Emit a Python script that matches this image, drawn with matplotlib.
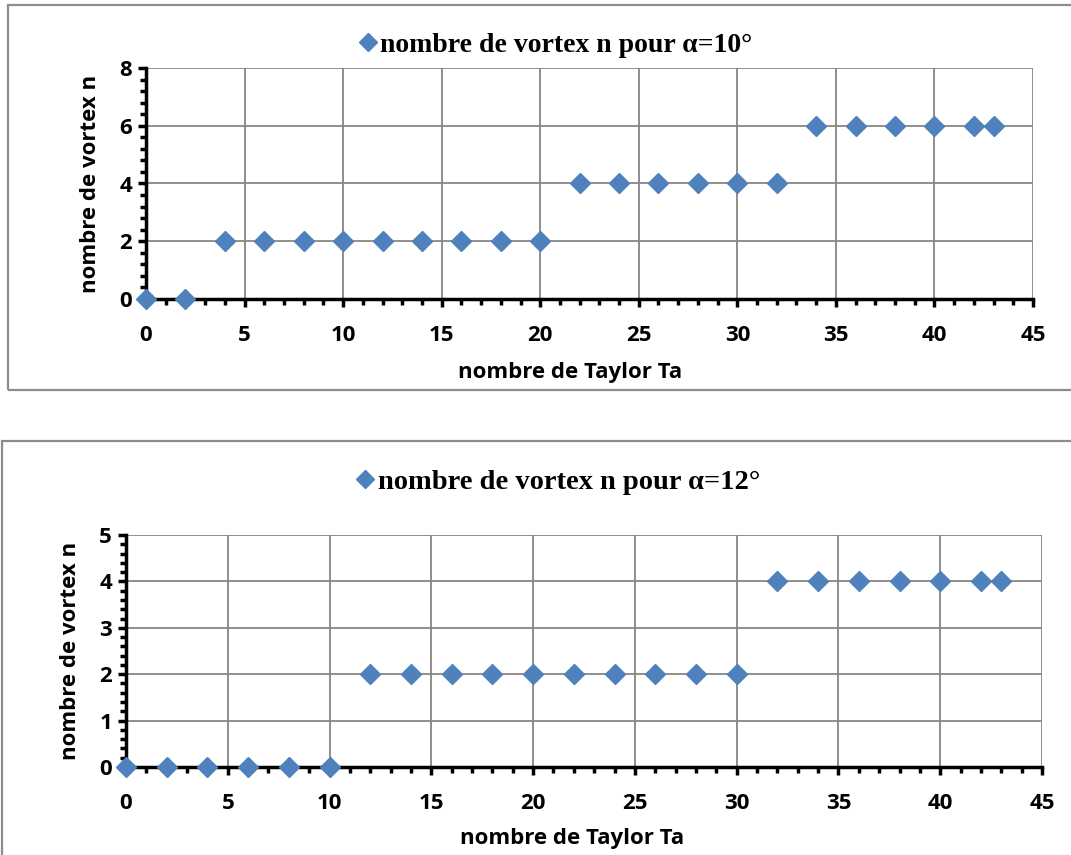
import matplotlib
matplotlib.use('Agg')
import matplotlib.pyplot as plt
from matplotlib.patches import Rectangle
from matplotlib.ticker import MultipleLocator

# nombre de Taylor (commun aux deux séries)
ta = [0, 2, 4, 6, 8, 10, 12, 14, 16, 18, 20, 22, 24, 26, 28, 30, 32, 34, 36, 38, 40, 42, 43]
# nombre de vortex pour alpha = 10° et alpha = 12°
n_10 = [0, 0, 2, 2, 2, 2, 2, 2, 2, 2, 2, 4, 4, 4, 4, 4, 4, 6, 6, 6, 6, 6, 6]
n_12 = [0, 0, 0, 0, 0, 0, 2, 2, 2, 2, 2, 2, 2, 2, 2, 2, 4, 4, 4, 4, 4, 4, 4]

labels = ['nombre de vortex n pour \u03b1=10\u00b0', 'nombre de vortex n pour \u03b1=12\u00b0']

bleu = '#4F81BD'
gris = '#868686'
police = 'Open Sans'

fig = plt.figure(figsize=(10.71, 8.55), dpi=100)

# cadres des deux graphiques
fig.patches.append(Rectangle((8 / 1071, 1 - 390 / 855), 1.1, 385 / 855, transform=fig.transFigure,
                             fill=False, edgecolor='#8c8c8c', lw=1.6))
fig.patches.append(Rectangle((2 / 1071, -0.05), 1.1, 1 - 441 / 855 + 0.05, transform=fig.transFigure,
                             fill=False, edgecolor='#8c8c8c', lw=1.6))


def tracer(pos, y, ymax, ymin_step, label, leg_pos, leg_size, xlab_xy):
    ax = fig.add_axes(pos)
    ax.plot(ta, y, linestyle='none', marker='D', markersize=10, color=bleu, clip_on=False, zorder=5)
    ax.set_xlim(0, 45)
    ax.set_ylim(0, ymax)
    ax.xaxis.set_major_locator(MultipleLocator(5))
    ax.xaxis.set_minor_locator(MultipleLocator(1))
    ax.yaxis.set_major_locator(MultipleLocator(2 if ymax == 8 else 1))
    ax.yaxis.set_minor_locator(MultipleLocator(ymin_step))
    ax.grid(True, which='major', color=gris, lw=1.3)
    ax.set_axisbelow(True)
    for s in ['top', 'right']:
        ax.spines[s].set_visible(False)
    for s in ['left', 'bottom']:
        ax.spines[s].set_linewidth(2.5)
        ax.spines[s].set_zorder(3)
    ax.tick_params(which='major', direction='out', length=6, width=2.5, labelsize=16)
    ax.tick_params(which='minor', direction='out', length=4, width=2.5)
    ax.tick_params(axis='x', which='major', pad=13)
    ax.tick_params(axis='y', which='major', pad=4)
    for t in ax.get_xticklabels() + ax.get_yticklabels():
        t.set_fontfamily(police)
        t.set_fontweight('bold')
    ax.set_xlabel('nombre de Taylor Ta', fontsize=16, fontweight='bold', family=police)
    ax.set_ylabel('nombre de vortex n', fontsize=16, fontweight='bold', family=police, labelpad=13)
    # titre de l'axe x un peu décalé vers la gauche
    ax.xaxis.set_label_coords(*xlab_xy)
    h = plt.Line2D([], [], linestyle='none', marker='D', markersize=9, color=bleu)
    fig.legend([h], [label], loc='center', bbox_to_anchor=leg_pos, frameon=False,
               handletextpad=0.0, handlelength=0.9,
               prop={'family': 'Liberation Serif', 'weight': 'bold', 'size': leg_size})
    return ax


tracer([146 / 1071, 1 - 299 / 855, 887 / 1071, 231 / 855], n_10, 8, 0.4, labels[0],
       (0.517, 1 - 45 / 855), 20, (0.478, -0.272))
tracer([126 / 1071, 1 - 767 / 855, 916 / 1071, 232 / 855], n_12, 5, 0.2, labels[1],
       (0.519, 1 - 482 / 855), 20.5, (0.487, -0.262))

fig.savefig('out.png', dpi=100)
